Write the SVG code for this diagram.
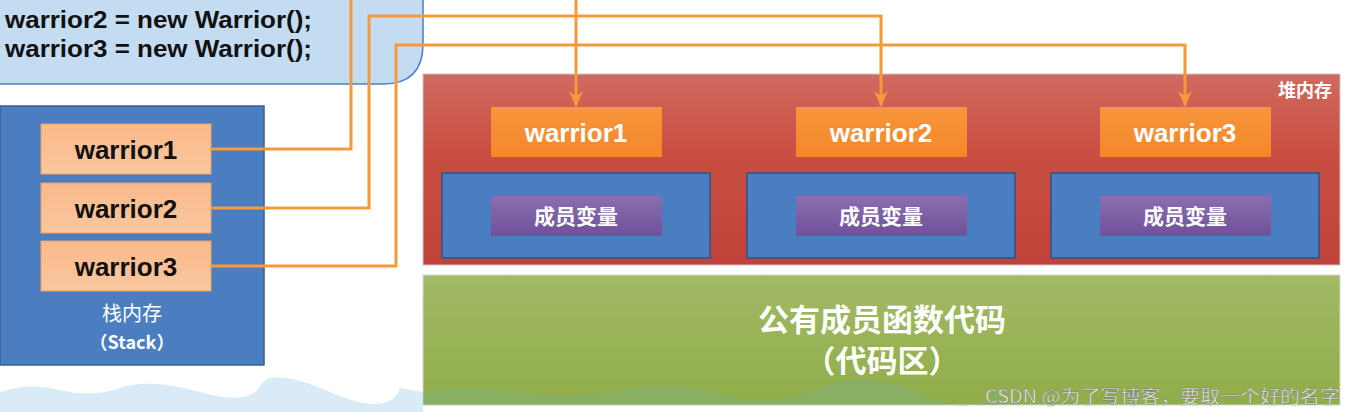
<svg xmlns="http://www.w3.org/2000/svg" width="1356" height="412" viewBox="0 0 1356 412">
<defs>
<linearGradient id="ob" x1="0" y1="0" x2="0" y2="1"><stop offset="0" stop-color="#fbb98a"/><stop offset="1" stop-color="#f9c79f"/></linearGradient>
<linearGradient id="oh" x1="0" y1="0" x2="0" y2="1"><stop offset="0" stop-color="#f7963c"/><stop offset="1" stop-color="#f5862a"/></linearGradient>
<linearGradient id="rd" x1="0" y1="0" x2="0" y2="1"><stop offset="0" stop-color="#d06a60"/><stop offset="0.4" stop-color="#c94f42"/><stop offset="1" stop-color="#c0423a"/></linearGradient>
<linearGradient id="gr" x1="0" y1="0" x2="0" y2="1"><stop offset="0" stop-color="#a3b966"/><stop offset="1" stop-color="#8fad48"/></linearGradient>
<linearGradient id="pu" x1="0" y1="0" x2="0" y2="1"><stop offset="0" stop-color="#8a6fb0"/><stop offset="1" stop-color="#70509a"/></linearGradient>
<marker id="ar" markerWidth="16" markerHeight="14" refX="15" refY="7" orient="auto" markerUnits="userSpaceOnUse" viewBox="0 0 16 14"><path d="M0,0 L16,7 L0,14 L5,7 Z" fill="#f59a3c"/></marker>
</defs>
<style>
.code{font:bold 24px "Liberation Sans",Arial,sans-serif;fill:#111}
.sk{font:bold 26px "Liberation Sans",Arial,sans-serif;fill:#111;text-anchor:middle}
.hp{font:bold 26px "Liberation Sans",Arial,sans-serif;fill:#fff;text-anchor:middle}
.cn{font-family:"Noto Sans CJK SC",sans-serif;font-weight:bold;fill:#fff;text-anchor:middle}
.ln{fill:none;stroke:#f59a3c;stroke-width:3}
</style>
<rect width="1356" height="412" fill="#fff"/>
<g id="code"><path d="M-2,-2 H423 V44 Q423,84 383,84 H-2 Z" fill="#c4dcf2" stroke="#4a7fc0" stroke-width="1.5"/>
<text class="code" x="5" y="28" textLength="307" lengthAdjust="spacingAndGlyphs">warrior2 = new Warrior();</text>
<text class="code" x="5" y="57" textLength="307" lengthAdjust="spacingAndGlyphs">warrior3 = new Warrior();</text></g>
<g id="stack"><rect x="0" y="106" width="264" height="259" fill="#4a7ec1" stroke="#3b5e8a" stroke-width="1.5"/>
<text class="cn" x="132" y="321" font-size="20" style="font-weight:normal">栈内存</text>
<text class="cn" x="132" y="349" font-size="18">（Stack）</text></g>
<g id="s1"><rect x="41" y="124" width="170" height="50" fill="url(#ob)" stroke="#f0a060"/><text class="sk" x="126" y="159">warrior1</text></g>
<g id="s2"><rect x="41" y="183" width="170" height="50" fill="url(#ob)" stroke="#f0a060"/><text class="sk" x="126" y="218">warrior2</text></g>
<g id="s3"><rect x="41" y="241" width="170" height="50" fill="url(#ob)" stroke="#f0a060"/><text class="sk" x="126" y="276">warrior3</text></g>
<g id="heap"><rect x="423" y="74" width="917" height="191" fill="url(#rd)" stroke="#c8c8c8"/>
<text class="cn" x="1305" y="97" font-size="18">堆内存</text></g>
<g id="h1"><rect x="491" y="107" width="171" height="50" fill="url(#oh)"/><text class="hp" x="576" y="142">warrior1</text>
<rect x="442" y="173" width="268" height="85" fill="#4a7ec1" stroke="#2f5287" stroke-width="1.5"/>
<rect x="491" y="196" width="171" height="40" fill="url(#pu)"/><text class="cn" x="576" y="224" font-size="21">成员变量</text></g>
<g id="h2"><rect x="796" y="107" width="171" height="50" fill="url(#oh)"/><text class="hp" x="881" y="142">warrior2</text>
<rect x="747" y="173" width="268" height="85" fill="#4a7ec1" stroke="#2f5287" stroke-width="1.5"/>
<rect x="796" y="196" width="171" height="40" fill="url(#pu)"/><text class="cn" x="881" y="224" font-size="21">成员变量</text></g>
<g id="h3"><rect x="1100" y="107" width="171" height="50" fill="url(#oh)"/><text class="hp" x="1185" y="142">warrior3</text>
<rect x="1051" y="173" width="268" height="85" fill="#4a7ec1" stroke="#2f5287" stroke-width="1.5"/>
<rect x="1100" y="196" width="171" height="40" fill="url(#pu)"/><text class="cn" x="1185" y="224" font-size="21">成员变量</text></g>
<g id="code-area"><rect x="423" y="275" width="917" height="130" fill="url(#gr)" stroke="#d8d8d8"/>
<text class="cn" x="882" y="331" font-size="31">公有成员函数代码</text>
<text class="cn" x="882" y="372" font-size="31">（代码区）</text></g>
<g id="connectors">
<path class="ln" d="M211,149 H351 V-5"/>
<path class="ln" d="M576,-5 V106" marker-end="url(#ar)"/>
<path class="ln" d="M211,208 H369 V16 H881 V106" marker-end="url(#ar)"/>
<path class="ln" d="M211,266 H396 V45 H1185 V106" marker-end="url(#ar)"/>
</g>
<path d="M0,412 V392 Q30,382 60,390 T120,388 T200,392 T260,386 T330,392 T400,388 L423,392 V412 Z" fill="#cfe6f4" opacity="0.8"/>
<path d="M423,405 V392 Q470,384 520,392 T620,390 T720,394 T820,388 T920,394 T1000,388 V405 Z" fill="#7fb07a" opacity="0.5"/>
<text x="985" y="403" font-family="'Noto Sans CJK SC',sans-serif" font-size="18" textLength="355" lengthAdjust="spacingAndGlyphs" fill="#e8e8e8" stroke="#666" stroke-width="0.3">CSDN @为了写博客，要取一个好的名字</text>
</svg>
